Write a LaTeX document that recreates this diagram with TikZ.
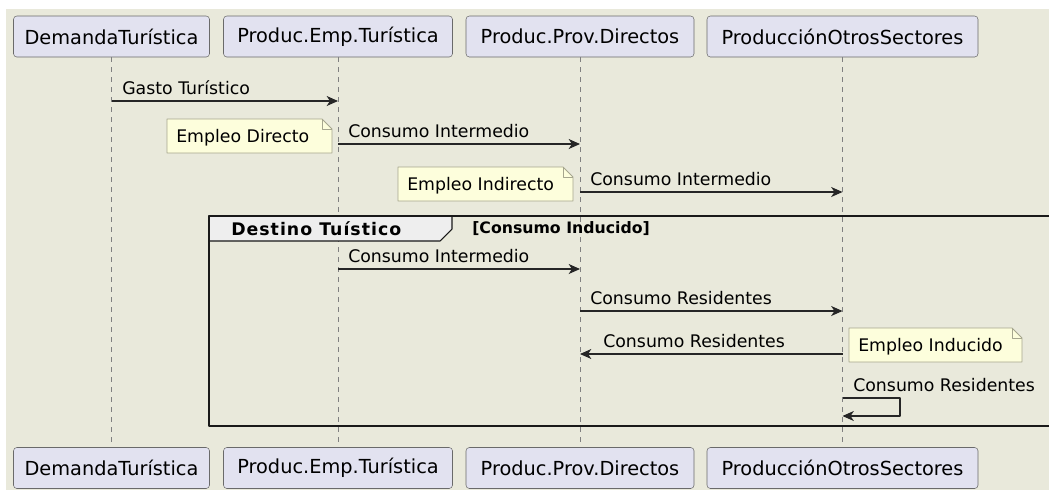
\documentclass[tikz,border=0pt]{standalone}
\usepackage{fontspec}
\setmainfont{DejaVu Sans}
\newfontfamily\espaciada[LetterSpace=5.8]{DejaVu Sans}
\usetikzlibrary{arrows.meta}
\definecolor{fondo}{HTML}{E9E9DB}
\definecolor{caja}{HTML}{E2E2F0}
\definecolor{borde}{HTML}{6A6A6A}
\definecolor{nota}{HTML}{FDFEDC}
\definecolor{bordenota}{HTML}{A6A68E}
\definecolor{gris}{HTML}{EEEEEE}
\tikzset{
  actor/.style={draw=borde, fill=caja, rounded corners=2.5pt, minimum height=30.75pt,
    inner xsep=0pt, font=\fontsize{14.5}{16}\selectfont},
  vida/.style={draw=black!50, dash pattern=on 3.75pt off 3.75pt, line width=0.5pt},
  mensaje/.style={-{Stealth[length=8.5pt, width=7.5pt, inset=2.5pt]}, line width=0.85pt, draw=black!85},
  etiqueta/.style={anchor=base west, inner sep=0pt},
  notabox/.style={draw=bordenota, fill=nota, line width=0.6pt},
  marco/.style={draw=black!90, line width=1.6pt},
  titulo/.style={anchor=west, inner sep=0pt, font=\bfseries\fontsize{13}{15}\selectfont}
}
\begin{document}
\begin{tikzpicture}[x=0.75pt, y=-0.75pt, font=\fontsize{13}{15}\selectfont, line join=round]
	\useasboundingbox (0,0) rectangle (1049,490);
	\fill[fondo] (6,9) rectangle (1049,490);
	% participantes y lineas de vida
	\foreach \n/\x/\w/\t in {dem/111.5/196/DemandaTurística, emp/338/229/Produc.Emp.Turística,
		prov/580/228/Produc.Prov.Directos, otros/842.5/271/ProducciónOtrosSectores}{
		\node[actor, minimum width=\w*0.75pt] (\n) at (\x,36.5) {\t};
		\node[actor, minimum width=\w*0.75pt] (\n2) at (\x,468) {\t};
		\draw[vida] (\n) -- (\n2);
	}
	% grupo
	\draw[draw=black!90, fill=gris, line width=0.8pt] (209,216) -- (452,216) -- (452,229)
		-- (440,241) -- (209,241) -- cycle;
	\draw[marco] (1060,216) -- (209,216) -- (209,426) -- (1060,426);
	\node[titulo, font=\espaciada\bfseries\fontsize{13}{15}\selectfont] (dest) at (231,229) {Destino Tuístico};
	\node[titulo, font=\bfseries\fontsize{11.8}{14}\selectfont] (cond) at (472,229) {[Consumo Inducido]};
	% notas
	\foreach \x/\y/\w/\t [count=\i] in {167/119/165/Empleo Directo, 398/167/175/Empleo Indirecto,
		849/328/173/Empleo Inducido}{
		\draw[notabox] (\x,\y) -- (\x+\w-10,\y) -- (\x+\w,\y+10) -- (\x+\w,\y+34) -- (\x,\y+34) -- cycle;
		\draw[notabox, fill=none] (\x+\w-10,\y) -- (\x+\w-10,\y+10) -- (\x+\w,\y+10);
		\node[etiqueta] (n\i) at (\x+9,\y+23.5) {\t};
	}
	% mensajes
	\foreach \a/\b/\y/\lx/\t [count=\i] in {dem/emp/101/122/Gasto Turístico,
		emp/prov/144/348/Consumo Intermedio, prov/otros/192/590/Consumo Intermedio,
		emp/prov/269/348/Consumo Intermedio, prov/otros/311/590/Consumo Residentes,
		otros/prov/354/603/Consumo Residentes}{
		\draw[mensaje] (\a |- 0,\y) -- (\b |- 0,\y);
		\node[etiqueta] (m\i) at (\lx,\y-6.5) {\t};
	}
	\draw[mensaje] (otros |- 0,398) -- (900,398) -- (900,416) -- (otros |- 0,416);
	\node[etiqueta] (m7) at (853,391) {Consumo Residentes};
\end{tikzpicture}
\end{document}
